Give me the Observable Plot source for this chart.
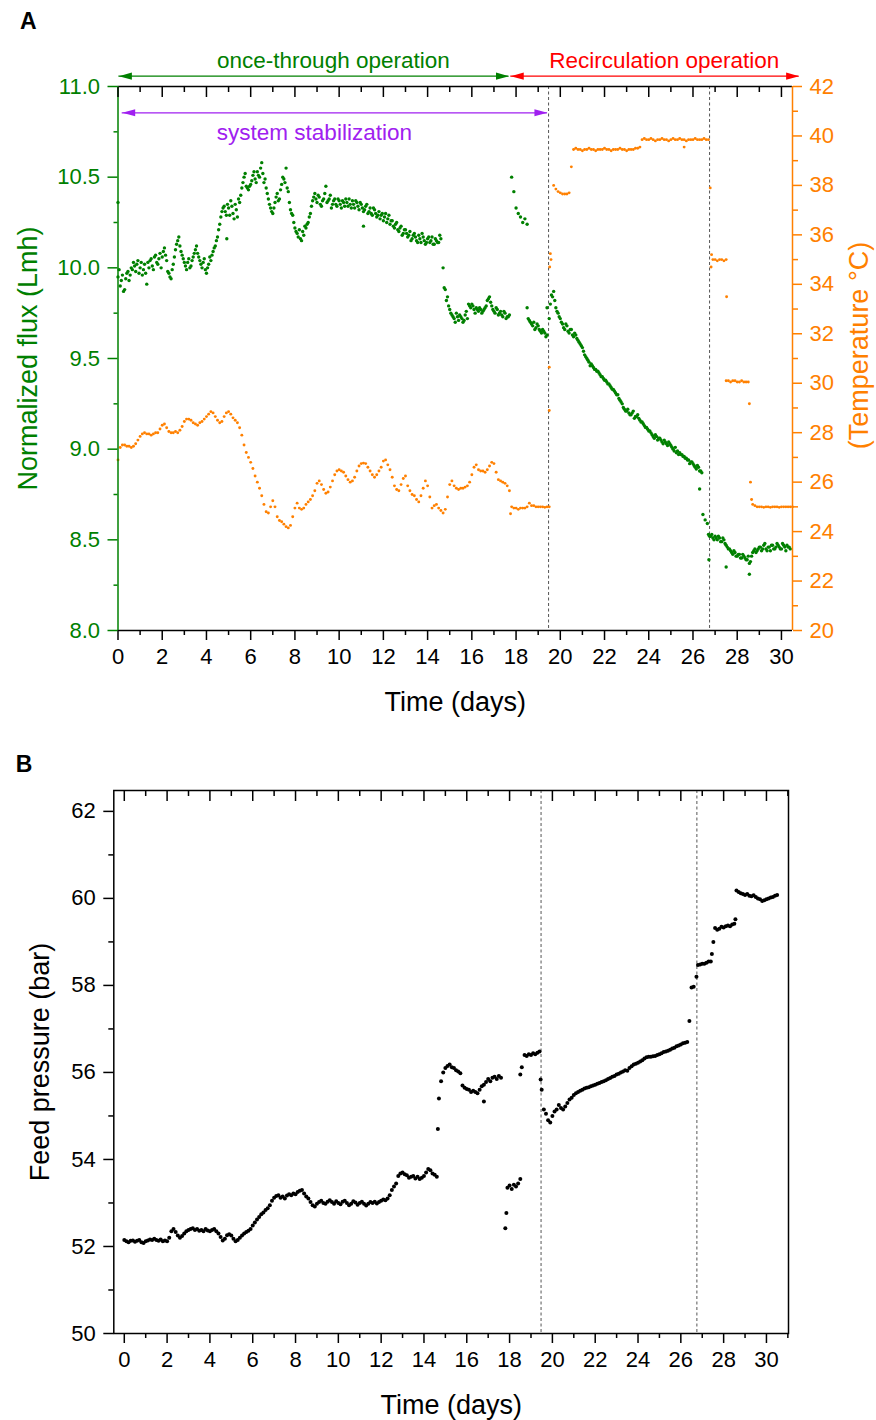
<!DOCTYPE html>
<html><head><meta charset="utf-8">
<script src="https://cdn.jsdelivr.net/npm/d3@7"></script>
<script src="https://cdn.jsdelivr.net/npm/@observablehq/plot@0.6"></script>
<style>
html,body{margin:0;padding:0;background:#fff;}
#chart{width:876px;}
#chart svg{display:block;overflow:visible;}
</style></head><body><div id="chart"></div>
<script>
// ---------------- DATA ----------------
// Normalized flux (Lmh); regular segments sampled every 0.1 day, start day given in the segment list
const fluxSeg1 = [9.95,9.90,9.96,9.88,9.97,9.93,10.00,10.03,9.98,10.04,
 10.00,9.96,10.02,9.91,10.00,10.05,9.99,10.07,10.02,10.08,
 10.06,10.11,10.04,9.97,9.94,10.02,10.10,10.15,10.12,10.07,
 10.03,9.99,10.05,10.01,10.06,10.10,10.08,10.04,10.00,10.05,
 9.97,10.02,10.04,10.09,10.12,10.17,10.24,10.31,10.34,10.29,
 10.33,10.37,10.30,10.35,10.28,10.36,10.44,10.50,10.45,10.43,
 10.46,10.51,10.49,10.53,10.50,10.58,10.47,10.44,10.38,10.33,
 10.30,10.36,10.41,10.38,10.46,10.49,10.55,10.42,10.32,10.29,
 10.22,10.19,10.21,10.15,10.18,10.22,10.25,10.30,10.37,10.41,
 10.36,10.39,10.34,10.38,10.45,10.37,10.40,10.35,10.38,10.34,
 10.37,10.33,10.36,10.38,10.34,10.35,10.37,10.33,10.36,10.32,
 10.35,10.31,10.34,10.30,10.33,10.29,10.32,10.28,10.31,10.29,
 10.26,10.30,10.27,10.24,10.26,10.22,10.25,10.20,10.23,10.19,
 10.21,10.17,10.20,10.16,10.19,10.15,10.18,10.14,10.17,10.13,
 10.16,10.14,10.17,10.13,10.15,10.14,10.16];
const fluxSeg1b = [9.99,9.93,9.87,9.94,9.98,9.96,9.99,10.01,10.02,9.97,
 10.03,9.99,9.97,10.03,10.04,10.01,10.06,10.03,10.05,10.00,
 10.09,10.07,9.98,9.95,9.99,10.06,10.13,10.17,10.09,10.05,
 10.01,10.03,10.00,10.04,10.08,10.12,10.06,10.02,10.03,9.99,
 10.00,10.06,10.07,10.11,10.15,10.21,10.28,10.33,10.31,10.35,
 10.29,10.34,10.27,10.32,10.38,10.40,10.47,10.52,10.44,10.45,
 10.48,10.53,10.47,10.51,10.55,10.52,10.49,10.41,10.35,10.31,
 10.33,10.39,10.37,10.43,10.50,10.47,10.44,10.36,10.30,10.25,
 10.20,10.17,10.16,10.20,10.23,10.24,10.28,10.34,10.39,10.38,
 10.40,10.35,10.37,10.41,10.36,10.38,10.33,10.37,10.35,10.38,
 10.35,10.37,10.34,10.36,10.38,10.33,10.35,10.37,10.34,10.36,
 10.33,10.32,10.35,10.31,10.30,10.33,10.30,10.29,10.27,10.30,
 10.28,10.25,10.29,10.26,10.23,10.24,10.21,10.22,10.18,10.21,
 10.19,10.18,10.15,10.18,10.17,10.14,10.16,10.19,10.15,10.14,
 10.17,10.15,10.13,10.16,10.14,10.18];
const fluxSeg2 = [10.00,9.88,9.84,9.77,9.74,9.72,9.75,9.71,9.73,9.70,9.74,9.72,9.79,9.80,9.77,9.78,9.76,9.77,9.76,9.78,9.82,9.84,9.79,9.76,9.78,9.74,9.76,9.73,9.75,9.73,9.74];
const fluxSeg2b = [9.89,9.82,9.79,9.75,9.73,9.70,9.73,9.74,9.72,9.71,9.76,9.80,9.78,9.79,9.75,9.77,9.78,9.75,9.77,9.79,9.83,9.81,9.77,9.75,9.77,9.75,9.74,9.76,9.72,9.73];
const fluxSeg3 = [10.50,10.42,10.33,10.30,10.28,10.25,10.27,10.24];
const fluxSeg4 = [9.78,9.71,9.69,9.70,9.67,9.68,9.65,9.66,9.64,9.63];
const fluxSeg4b = [9.72,9.70,9.68,9.66,9.69,9.66,9.64,9.65,9.62];
const fluxSeg5 = [9.72,9.85,9.87,9.78,9.75,9.72,9.69,9.66,9.68,9.64,
 9.66,9.62,9.63,9.60,9.58,9.56,9.52,9.50,9.48,9.47,
 9.45,9.44,9.43,9.41,9.40,9.38,9.37,9.36,9.34,9.33,
 9.31,9.30,9.27,9.25,9.22,9.21,9.20,9.19,9.21,9.18,
 9.19,9.16,9.15,9.13,9.12,9.10,9.09,9.07,9.08,9.05,
 9.06,9.04,9.05,9.03,9.04,9.02,9.00,9.01,8.99,8.98,
 8.97,8.96,8.95,8.94,8.93,8.92,8.90,8.91,8.88,8.87];
const fluxSeg5b = [9.80,9.84,9.82,9.76,9.73,9.70,9.67,9.69,9.65,9.66,
 9.63,9.64,9.61,9.59,9.57,9.54,9.51,9.49,9.46,9.46,
 9.44,9.43,9.42,9.40,9.39,9.38,9.36,9.35,9.33,9.32,
 9.30,9.28,9.26,9.23,9.21,9.22,9.19,9.20,9.17,9.18,
 9.17,9.15,9.14,9.12,9.11,9.10,9.08,9.06,9.07,9.06,
 9.05,9.03,9.04,9.02,9.03,9.01,8.99,8.98,8.97,8.97,
 8.96,8.95,8.94,8.92,8.93,8.91,8.89,8.90,8.88];
const fluxSeg6 = [8.64,8.61,8.59];
const fluxSeg7 = [8.53,8.52,8.51,8.52,8.50,8.51,8.49,8.50,8.47,8.45,
 8.44,8.42,8.43,8.41,8.42,8.40,8.41,8.39,8.41,8.38,
 8.43,8.45,8.44,8.46,8.44,8.47,8.45,8.46,8.44,8.47,
 8.45,8.48,8.46,8.45,8.47,8.44,8.46,8.45];
const fluxSeg7b = [8.52,8.53,8.50,8.51,8.52,8.49,8.51,8.48,8.46,8.45,
 8.43,8.44,8.41,8.42,8.40,8.42,8.40,8.39,8.37,8.41,
 8.44,8.43,8.45,8.46,8.45,8.48,8.44,8.46,8.47,8.45,
 8.46,8.47,8.45,8.48,8.46,8.47,8.46];
const fluxStarts = [0, 0.05, 14.7, 14.75, 17.8, 18.5, 18.55, 19.5, 19.55, 26.45, 26.7, 26.75];
const fluxOutliers = [[0,10.36],[4.92,10.16],[11.1,10.23],[19.4,9.78],[26.3,8.78],[26.72,8.39],[27.5,8.35],[28.55,8.31]];

// Temperature (°C)
const tempSeg1 = [26.9,27.4,27.5,27.5,27.45,27.45,27.4,27.45,27.55,27.7,
 27.85,27.95,28.0,27.95,27.95,27.9,27.95,28.0,28.0,28.15,
 28.3,28.35,28.2,28.05,28.0,28.0,28.05,28.0,28.1,28.25,
 28.45,28.55,28.55,28.5,28.4,28.35,28.3,28.4,28.45,28.55,
 28.65,28.75,28.85,28.8,28.65,28.5,28.4,28.45,28.65,28.8,
 28.85,28.75,28.6,28.5,28.4,28.2,27.9,27.5,27.2,27.0,
 26.8,26.55,26.25,26.0,25.75,25.45,25.1,24.8,24.75,25.0,
 25.25,25.0,24.6,24.45,24.4,24.3,24.2,24.15,24.25,24.6,
 24.95,25.15,24.95,24.9,24.95,25.1,25.2,25.3,25.45,25.65,
 25.95,26.05,25.9,25.7,25.55,25.6,25.8,26.05,26.3,26.45,
 26.5,26.45,26.4,26.25,26.1,26.0,26.05,26.2,26.45,26.65,
 26.75,26.77,26.75,26.6,26.45,26.3,26.2,26.3,26.45,26.6,
 26.85,26.9,26.7,26.5,26.2,25.85,25.7,25.65,25.9,26.15,
 26.25,25.85,25.65,25.5,25.45,25.3,25.2,25.45,25.75,26.05,
 25.85,25.4,24.95,25.05,25.1,24.95,24.85,24.75,24.9,25.4,
 25.9,26.05,25.85,25.75,25.7,25.75,25.75,25.8,25.85,26.0,
 26.3,26.6,26.7,26.5,26.45,26.45,26.4,26.5,26.65,26.8,
 26.75,26.4,26.1,26.05,26.0,25.95,25.85,25.65];
const tempSeg2 = [25.0,24.95,24.95,24.9,24.95,24.95,24.95,25.0,25.15,25.05,25.05,25.0,25.0,25.0,25.0,24.98,25.0,25.0];
const tempSeg3 = [38.0,37.85,37.75,37.7,37.65,37.65,37.65,37.7];
const tempSeg4 = [39.45,39.5,39.45,39.45,39.4,39.45,39.45,39.5,39.45,39.45,
 39.4,39.45,39.45,39.45,39.5,39.45,39.45,39.4,39.45,39.45,
 39.45,39.5,39.45,39.45,39.4,39.45,39.45,39.45,39.5,39.5,39.55];
const tempSeg5 = [39.85,39.9,39.85,39.85,39.9,39.85,39.8,39.85,39.85,39.9,
 39.85,39.85,39.8,39.85,39.9,39.85,39.85,39.9,39.85,39.85,
 39.8,39.85,39.85,39.85,39.9,39.85,39.85,39.85,39.9,39.85,39.85];
const tempSeg6 = [35.0,35.0,34.95,35.0,35.0,34.95,35.0];
const tempSeg7 = [30.1,30.1,30.05,30.1,30.1,30.05,30.05,30.1,30.05,30.05,30.05];
const tempSeg8 = [25.1,25.05,25.0,25.0,25.0,24.98,25.0,25.0,24.98,25.0,25.0,25.0,24.98,25.0,25.0,25.0,25.0,25.0,25.0];
const tempStarts = [0, 17.8, 19.7, 20.6, 23.7, 26.9, 27.5, 28.7];
const tempOutliers = [[17.75,24.72],[19.5,28.9],[19.5,30.65],[19.52,34.7],[19.55,35.24],[19.58,35.0],[20.5,38.75],[25.6,39.55],[26.78,37.9],[26.82,34.7],[26.84,35.2],[27.52,33.5],[28.55,29.17],[28.6,26.0],[28.65,25.3]];

// Feed pressure (bar)
const pressSeg1 = [52.15,52.12,52.10,52.13,52.14,52.11,52.13,52.15,52.10,52.08,
 52.12,52.14,52.16,52.15,52.18,52.15,52.13,52.16,52.12,52.14,
 52.12,52.20,52.35,52.40,52.33,52.25,52.20,52.24,52.30,52.35,
 52.38,52.40,52.42,52.38,52.40,52.36,52.38,52.35,52.40,52.37,
 52.35,52.38,52.40,52.35,52.30,52.22,52.14,52.18,52.26,52.28,
 52.25,52.18,52.12,52.15,52.20,52.25,52.30,52.33,52.36,52.40,
 52.48,52.55,52.62,52.68,52.74,52.78,52.84,52.88,52.95,53.05,
 53.12,53.16,53.18,53.12,53.15,53.10,53.17,53.20,53.18,53.22,
 53.20,53.25,53.28,53.30,53.22,53.15,53.10,53.02,52.95,52.92,
 52.98,53.02,53.05,53.00,52.98,53.03,53.06,53.02,52.98,53.04,
 53.00,52.97,53.03,53.05,53.00,52.95,52.98,53.04,53.01,52.96,
 53.00,53.03,52.98,52.94,52.98,53.02,53.00,53.03,52.99,53.02,
 53.05,53.08,53.06,53.10,53.18,53.30,53.38,53.45,53.62,53.68,
 53.70,53.66,53.64,53.58,53.60,53.62,53.56,53.60,53.55,53.58,
 53.62,53.70,53.78,53.75,53.68,53.65,53.60];
const pressSeg2 = [55.40,55.80,56.00,56.10,56.15,56.18,56.12,56.10,56.05,56.02,
 55.98,55.70,55.65,55.62,55.60,55.55,55.58,55.55,55.52,55.60,
 55.68,55.72,55.78,55.85,55.80,55.88,55.90,55.85,55.92,55.88];
const pressSeg3 = [53.35,53.40,53.32,53.42,53.38,53.45,53.55];
const pressSeg4 = [56.40,56.38,56.42,56.40,56.44,56.42,56.45,56.48];
const pressSeg5 = [55.15,55.05,54.90,54.85,55.00,55.10,55.15,55.25,55.18,55.15,
 55.22,55.30,55.38,55.42,55.48,55.52,55.55,55.58,55.60,55.63,
 55.65,55.66,55.68,55.70,55.72,55.74,55.76,55.78,55.80,55.82,
 55.85,55.87,55.90,55.92,55.95,55.97,56.00,56.02,56.05,56.04,
 56.10,56.14,56.18,56.20,56.22,56.25,56.28,56.32,56.35,56.36,
 56.36,56.37,56.38,56.40,56.42,56.44,56.47,56.48,56.50,56.52,
 56.55,56.57,56.60,56.62,56.64,56.67,56.68,56.70];
const pressSeg6 = [57.95,57.97];
const pressSeg7 = [58.47,58.48,58.50,58.50,58.52,58.55,58.55];
const pressSeg8 = [59.32,59.28,59.30,59.35,59.33,59.36,59.38,59.36,59.40,59.42];
const pressSeg9 = [60.18,60.15,60.12,60.10,60.08,60.10,60.06,60.05,60.07,60.03,60.00,59.98,59.94,59.96,59.98,60.00,60.02,60.03,60.06,60.08];
const pressStarts = [0, 14.7, 17.9, 18.7, 19.6, 26.5, 26.8, 27.6, 28.6];
const pressOutliers = [[14.65,54.70],[16.8,55.33],[17.8,52.42],[17.85,52.77],[18.5,55.95],[18.57,56.12],[19.45,55.84],[19.5,55.6],[26.4,57.18],[26.73,58.2],[27.45,58.72],[27.52,59.0],[28.55,59.52]];

// Phase markers (days), ticks and annotations
const phaseLines = [19.47, 26.75];
const xMajor = [0,2,4,6,8,10,12,14,16,18,20,22,24,26,28,30];
const xMinorA = [1,3,5,7,9,11,13,15,17,19,21,23,25,27,29];
const xMinorB = [1,3,5,7,9,11,13,15,17,19,21,23,25,27,29,31];
const fluxMajor = [8.0,8.5,9.0,9.5,10.0,10.5,11.0];
const fluxMinor = [8.25,8.75,9.25,9.75,10.25,10.75];
const tempMajor = [20,22,24,26,28,30,32,34,36,38,40,42];
const tempMinor = [21,23,25,27,29,31,33,35,37,39,41];
const pressMajor = [50,52,54,56,58,60,62];
const pressMinor = [51,53,55,57,59,61];
const phaseArrows = [
  {x1: 0.04, x2: 17.68, y: 11.057, color: "#008000"},
  {x1: 17.76, x2: 30.8, y: 11.057, color: "#ff0000"},
  {x1: 0.19, x2: 19.42, y: 10.855, color: "#a020f0"}
];
const phaseLabels = [
  {x: 9.74, y: 11.103, text: "once-through operation", color: "#008000"},
  {x: 24.7, y: 11.103, text: "Recirculation operation", color: "#ff0000"},
  {x: 8.88, y: 10.706, text: "system stabilization", color: "#a020f0"}
];

// ---------------- BUILD ----------------
const GREEN = "#008000", ORANGE = "#ff8000", DASH = "#555";
const FONT = "'Liberation Sans', Arial, Helvetica, sans-serif";
const TICKFS = 22;
const seg = (t0, vals) => vals.map((v, i) => ({t: Math.round((t0 + i * 0.1) * 100) / 100, v}));
const pts = pairs => pairs.map(([t, v]) => ({t, v}));
const build = (segs, starts, outl) => segs.map((s, k) => seg(starts[k], s)).flat().concat(pts(outl));

const flux = build([fluxSeg1,fluxSeg1b,fluxSeg2,fluxSeg2b,fluxSeg3,fluxSeg4,fluxSeg4b,fluxSeg5,fluxSeg5b,fluxSeg6,fluxSeg7,fluxSeg7b], fluxStarts, fluxOutliers);
const temp = build([tempSeg1,tempSeg2,tempSeg3,tempSeg4,tempSeg5,tempSeg6,tempSeg7,tempSeg8], tempStarts, tempOutliers);
const press = build([pressSeg1,pressSeg2,pressSeg3,pressSeg4,pressSeg5,pressSeg6,pressSeg7,pressSeg8,pressSeg9], pressStarts, pressOutliers);

// temperature shares the flux y scale: 20..42 °C <-> 8..11 Lmh
const toY = T => 8 + (T - 20) * 3 / 22;
const fromY = f => (f - 8) * 22 / 3 + 20;

const headRight = {draw(ctx, size) { const r = Math.sqrt(size / Math.PI); ctx.moveTo(0, 0); ctx.lineTo(-2 * r, -0.55 * r); ctx.lineTo(-2 * r, 0.55 * r); ctx.closePath(); }};
const headLeft = {draw(ctx, size) { const r = Math.sqrt(size / Math.PI); ctx.moveTo(0, 0); ctx.lineTo(2 * r, -0.55 * r); ctx.lineTo(2 * r, 0.55 * r); ctx.closePath(); }};

const arrowMarks = phaseArrows.flatMap(a => [
  Plot.ruleY([a], {y: "y", x1: "x1", x2: "x2", stroke: a.color, strokeWidth: 1.2}),
  Plot.dot([a], {x: "x1", y: "y", symbol: headLeft, r: 6.5, fill: a.color, stroke: "none"}),
  Plot.dot([a], {x: "x2", y: "y", symbol: headRight, r: 6.5, fill: a.color, stroke: "none"})
]);
const labelMarks = phaseLabels.map(l =>
  Plot.text([l], {x: "x", y: "y", text: "text", fill: l.color, fontSize: 22.5, textAnchor: "middle", lineAnchor: "bottom"}));

const plotA = Plot.plot({
  width: 876, height: 735,
  marginLeft: 117.5, marginRight: 84, marginTop: 86, marginBottom: 105,
  style: {fontFamily: FONT, fontSize: TICKFS + "px", background: "#fff", overflow: "visible"},
  x: {domain: [0, 30.5]},
  y: {domain: [8, 11]},
  marks: [
    Plot.ruleX(phaseLines, {stroke: DASH, strokeWidth: 1, strokeDasharray: "3,2.5"}),
    Plot.dot(temp, {x: "t", y: d => toY(d.v), r: 1.45, fill: ORANGE, stroke: "none"}),
    Plot.dot(flux, {x: "t", y: "v", r: 1.7, fill: GREEN, stroke: "none"}),
    Plot.ruleY([11], {stroke: "#000", strokeWidth: 1.5}),
    Plot.ruleY([8], {stroke: "#000", strokeWidth: 1.5}),
    Plot.ruleX([0], {stroke: GREEN, strokeWidth: 1.5}),
    Plot.ruleX([30.5], {stroke: ORANGE, strokeWidth: 1.5}),
    Plot.axisX(xMajor, {anchor: "bottom", tickSize: 10, tickPadding: 8, tickFormat: d => String(d), color: "#000", strokeWidth: 1.5, fontSize: TICKFS, label: null}),
    Plot.axisX(xMinorA, {anchor: "bottom", tickSize: 5, stroke: "#000", fill: "none", strokeWidth: 1.5, label: null}),
    Plot.axisX(xMajor, {anchor: "top", tickSize: -10, stroke: "#000", fill: "none", strokeWidth: 1.5, label: null}),
    Plot.axisX(xMinorA, {anchor: "top", tickSize: -5, stroke: "#000", fill: "none", strokeWidth: 1.5, label: null}),
    Plot.axisY(fluxMajor, {anchor: "left", tickSize: 10, tickPadding: 8, tickFormat: d3.format(".1f"), color: GREEN, strokeWidth: 1.5, fontSize: TICKFS, label: null}),
    Plot.axisY(fluxMinor, {anchor: "left", tickSize: 4, stroke: GREEN, fill: "none", strokeWidth: 1.5, label: null}),
    Plot.axisY(tempMajor.map(toY), {anchor: "right", tickSize: 9, tickPadding: 8, tickFormat: d => String(Math.round(fromY(d))), color: ORANGE, strokeWidth: 1.5, fontSize: TICKFS, label: null}),
    Plot.axisY(tempMinor.map(toY), {anchor: "right", tickSize: 5, stroke: ORANGE, fill: "none", strokeWidth: 1.5, label: null}),
    ...arrowMarks,
    ...labelMarks,
    Plot.text(["A"], {frameAnchor: "top-left", dx: -98, dy: -74, text: d => d, fontWeight: "bold", fontSize: 23, textAnchor: "start", lineAnchor: "top", fill: "#000"}),
    Plot.text(["Normalized flux (Lmh)"], {frameAnchor: "left", dx: -90, rotate: -90, text: d => d, fill: GREEN, fontSize: 27, textAnchor: "middle", lineAnchor: "middle"}),
    Plot.text(["(Temperature °C)"], {frameAnchor: "right", dx: 67, dy: -13, rotate: -90, text: d => d, fill: ORANGE, fontSize: 27, textAnchor: "middle", lineAnchor: "middle"}),
    Plot.text(["Time (days)"], {frameAnchor: "bottom", dy: 80, text: d => d, fill: "#000", fontSize: 27, textAnchor: "middle", lineAnchor: "bottom"})
  ]
});

const plotB = Plot.plot({
  width: 876, height: 685,
  marginLeft: 113.3, marginRight: 88, marginTop: 55, marginBottom: 87,
  style: {fontFamily: FONT, fontSize: TICKFS + "px", background: "#fff", overflow: "visible"},
  x: {domain: [-0.49, 31.03]},
  y: {domain: [50, 62.48]},
  marks: [
    Plot.ruleX(phaseLines, {stroke: DASH, strokeWidth: 1, strokeDasharray: "3,2.5"}),
    Plot.dot(press, {x: "t", y: "v", r: 2.0, fill: "#000", stroke: "none"}),
    Plot.frame({stroke: "#000", strokeWidth: 1.5}),
    Plot.axisX(xMajor, {anchor: "bottom", tickSize: 10, tickPadding: 8, tickFormat: d => String(d), color: "#000", strokeWidth: 1.5, fontSize: TICKFS, label: null}),
    Plot.axisX(xMinorB, {anchor: "bottom", tickSize: 5, stroke: "#000", fill: "none", strokeWidth: 1.5, label: null}),
    Plot.axisX(xMajor, {anchor: "top", tickSize: -10, stroke: "#000", fill: "none", strokeWidth: 1.5, label: null}),
    Plot.axisX(xMinorB, {anchor: "top", tickSize: -5, stroke: "#000", fill: "none", strokeWidth: 1.5, label: null}),
    Plot.axisY(pressMajor, {anchor: "left", tickSize: 10, tickPadding: 8, tickFormat: d => String(d), color: "#000", strokeWidth: 1.5, fontSize: TICKFS, label: null}),
    Plot.axisY(pressMinor, {anchor: "left", tickSize: 5, stroke: "#000", fill: "none", strokeWidth: 1.5, label: null}),
    Plot.text(["B"], {frameAnchor: "top-left", dx: -98, dy: -35, text: d => d, fontWeight: "bold", fontSize: 23, textAnchor: "start", lineAnchor: "top", fill: "#000"}),
    Plot.text(["Feed pressure (bar)"], {frameAnchor: "left", dx: -73, rotate: -90, text: d => d, fill: "#000", fontSize: 27, textAnchor: "middle", lineAnchor: "middle"}),
    Plot.text(["Time (days)"], {frameAnchor: "bottom", dy: 80, text: d => d, fill: "#000", fontSize: 27, textAnchor: "middle", lineAnchor: "bottom"})
  ]
});

const chart = document.getElementById("chart");
chart.appendChild(plotA);
chart.appendChild(plotB);
</script>
</body></html>
